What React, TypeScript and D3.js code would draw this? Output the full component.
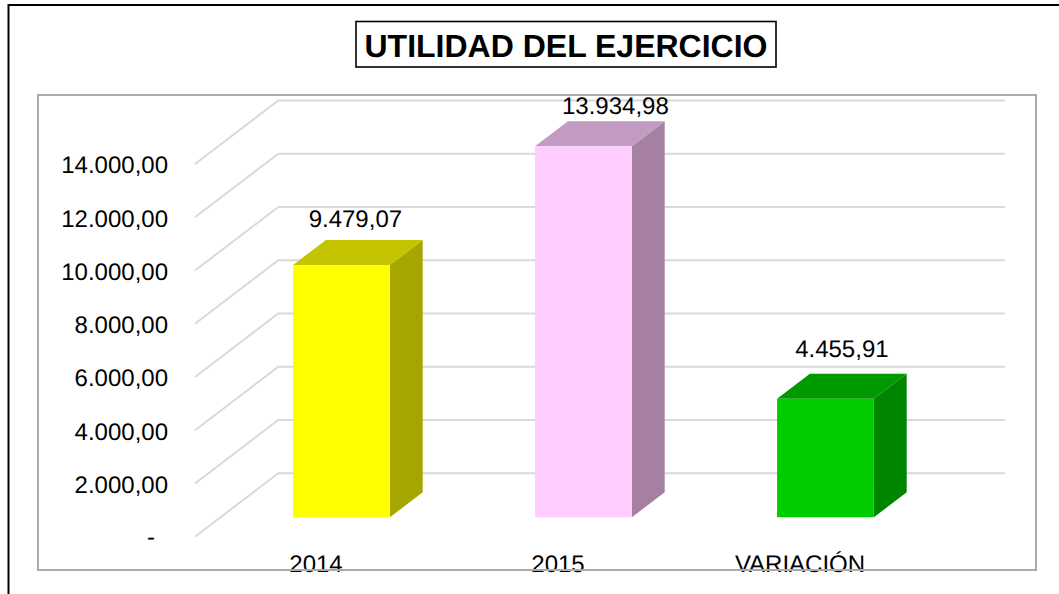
import React from "react";
import * as d3 from "d3";

const title = "UTILIDAD DEL EJERCICIO";
const categories = ["2014", "2015", "VARIACIÓN"];
const values = [9479.07, 13934.98, 4455.91];
const valueLabels = ["9.479,07", "13.934,98", "4.455,91"];
const yTicks = [0, 2000, 4000, 6000, 8000, 10000, 12000, 14000];
const yTickLabels = ["-", "2.000,00", "4.000,00", "6.000,00", "8.000,00", "10.000,00", "12.000,00", "14.000,00"];
const frontColors = ["#FFFF00", "#FFCCFF", "#00CC00"];
const sideColors = ["#A6A600", "#A680A1", "#008500"];
const topColors = ["#C4C400", "#C29BC2", "#009900"];
const labelNudgeX = [-2.5, 15.5, 0];
const labelNudgeY = [0, 5.3, -4];

const W = 1059, H = 594;
const FONT = "'Liberation Sans', Arial, sans-serif";
const DX = 83.3, DY = -63.5;
const T0 = 0.3055, T1 = 0.7;
const FS = 24;

export default function App() {
  const x = d3.scaleBand<string>().domain(categories).range([195, 921]).paddingInner(0.6).paddingOuter(0.3);
  const y = d3.scaleLinear().domain([0, 14000]).range([536.7, 164]);
  const poly = (pts: [number, number][]) => d3.line()(pts) + "Z";
  const P = (px: number, py: number, t: number): [number, number] => [px + DX * t, py + DY * t];

  return (
    <svg width={W} height={H} viewBox={`0 0 ${W} ${H}`} style={{ position: "absolute", left: 0, top: 0, display: "block", background: "#fff" }} fontFamily={FONT} textRendering="geometricPrecision">
      <rect x={8.5} y={5} width={W + 20} height={H + 20} fill="#fff" stroke="#000" strokeWidth={2} />
      <rect x={356} y={21.5} width={420} height={45.5} fill="#fff" stroke="#000" strokeWidth={1.6} />
      <text x={566} y={56.5} textAnchor="middle" fontSize={32} fontWeight="bold" fill="#000">{title}</text>

      {yTicks.map((t) => {
        const f = P(195, y(t), 0), b = P(195, y(t), 1);
        const e: [number, number] = [1005, b[1]];
        return <path key={t} d={d3.line()([f, b, e]) as string} fill="none" stroke="#D9D9D9" strokeWidth={2} />;
      })}

      {yTicks.map((t, i) => (
        <text key={t} x={i === 0 ? 155 : 168} y={y(t) + (i === 0 ? 7.8 : 9.3)} textAnchor="end" fontSize={FS} fill="#000">{yTickLabels[i]}</text>
      ))}

      {categories.map((c, i) => {
        const l = x(c) as number, r = l + x.bandwidth();
        const y0 = y(0), yv = y(values[i]);
        const front = [P(l, y0, T0), P(r, y0, T0), P(r, yv, T0), P(l, yv, T0)];
        const side = [P(r, y0, T0), P(r, y0, T1), P(r, yv, T1), P(r, yv, T0)];
        const top = [P(l, yv, T0), P(r, yv, T0), P(r, yv, T1), P(l, yv, T1)];
        const cx = (l + r) / 2 + DX * (T0 + T1) / 2 + labelNudgeX[i];
        const ly = yv + DY * T0 - 38 + labelNudgeY[i];
        return (
          <g key={c}>
            <path d={poly(side)} fill={sideColors[i]} />
            <path d={poly(top)} fill={topColors[i]} />
            <path d={poly(front)} fill={frontColors[i]} />
            <text x={cx} y={ly} textAnchor="middle" fontSize={FS} fill="#000">{valueLabels[i]}</text>
          </g>
        );
      })}

      {categories.map((c) => (
        <text key={c} x={(x(c) as number) + x.bandwidth() / 2} y={572} textAnchor="middle" fontSize={FS} fill="#000">{c}</text>
      ))}
      <rect x={38} y={95} width={998} height={475} fill="none" stroke="#ABA9A9" strokeWidth={2} />
    </svg>
  );
}
